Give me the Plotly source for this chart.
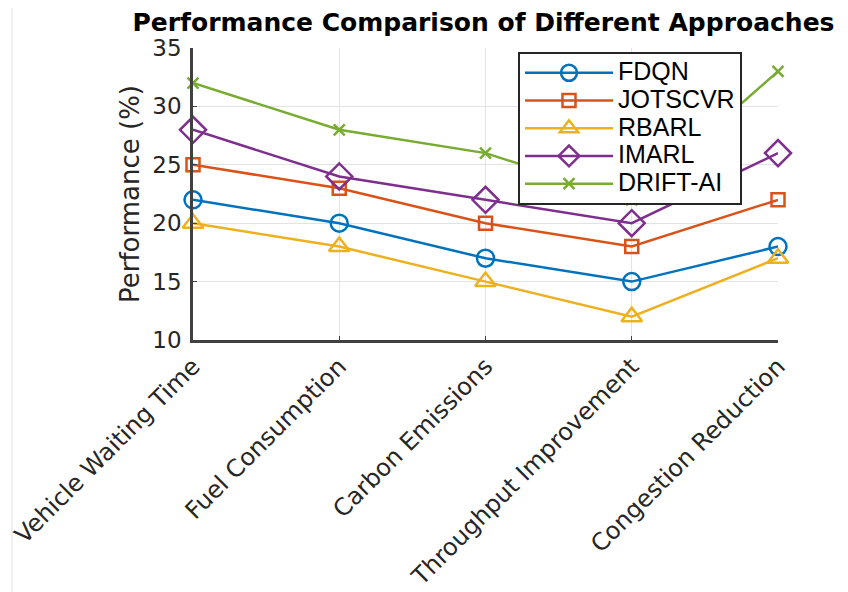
import plotly.graph_objects as go

categories = ["Vehicle Waiting Time", "Fuel Consumption", "Carbon Emissions",
              "Throughput Improvement", "Congestion Reduction"]
fdqn = [22, 20, 17, 15, 18]
jotscvr = [25, 23, 20, 18, 22]
rbarl = [20, 18, 15, 12, 17]
imarl = [28, 24, 22, 20, 26]
drift_ai = [32, 28, 26, 22, 33]
y_ticks = [10, 15, 20, 25, 30, 35]

series = [
    ("FDQN", fdqn, "#0072BD", "circle-open", 17),
    ("JOTSCVR", jotscvr, "#D95319", "square-open", 13),
    ("RBARL", rbarl, "#EDB120", "triangle-up-open", 18),
    ("IMARL", imarl, "#7E2F8E", "diamond-open", 20),
    ("DRIFT-AI", drift_ai, "#77AC30", "x-thin-open", 11),
]

W, H = 840, 584
L, R, T, B = 185, 70, 40, 252

fig = go.Figure()
xs = list(range(len(categories)))
for name, vals, color, sym, size in series:
    fig.add_trace(go.Scatter(
        x=xs, y=vals, name='<span style="font-size:25px">' + name + '</span>',
        mode="lines+markers",
        line=dict(color=color, width=2.5),
        marker=dict(symbol=sym, size=size, color=color,
                    line=dict(color=color, width=2.5)),
        cliponaxis=False,
    ))

fig.update_layout(
    width=W, height=H,
    margin=dict(l=L, r=R, t=T, b=B, autoexpand=False),
    paper_bgcolor="white", plot_bgcolor="white",
    font=dict(family="DejaVu Sans, sans-serif", color="#262626", size=22),
    title=dict(text="<b>Performance Comparison of Different Approaches</b>",
               xref="container", x=475.5 / W, xanchor="center",
               yref="container", y=1 - 14.5 / H, yanchor="middle",
               font=dict(family="DejaVu Sans, sans-serif", size=25, color="black")),
    showlegend=True,
    legend=dict(x=(510 - L) / (W - L - R), y=(H - B - 44) / (H - T - B),
                xanchor="left", yanchor="top",
                bgcolor="white", bordercolor="#262626", borderwidth=2,
                font=dict(family="Liberation Sans, Arial, sans-serif", size=19, color="black"),
                tracegroupgap=0, itemwidth=88),
    shapes=[dict(type="line", xref="paper", yref="paper",
                 x0=(4 - L) / (W - L - R), x1=(4 - L) / (W - L - R),
                 y0=(H - B - 584) / (H - T - B), y1=(H - B) / (H - T - B) + T / (H - T - B),
                 line=dict(color="#EBEBEB", width=1.5), layer="below")],
)
fig.update_xaxes(
    range=[0, 4], tickmode="array", tickvals=xs, ticktext=categories,
    tickangle=-45, showgrid=True, gridcolor="#E3E3E3", gridwidth=1.2,
    showline=True, linecolor="#404040", linewidth=2.5,
    ticks="inside", ticklen=4, tickcolor="#404040", ticklabeloverflow="allow",
    tickfont=dict(size=24, color="#262626"), zeroline=False,
)
fig.update_yaxes(
    range=[10, 35], tickmode="array", tickvals=y_ticks,
    showgrid=True, gridcolor="#E3E3E3", gridwidth=1.2,
    showline=True, linecolor="#404040", linewidth=2.5,
    ticks="inside", ticklen=4, tickcolor="#404040", ticklabelstandoff=4,
    tickfont=dict(size=23, color="#262626"), zeroline=False,
    title=dict(text="Performance (%)", font=dict(size=26, color="#262626"), standoff=6),
)

fig.write_html("out.html")
